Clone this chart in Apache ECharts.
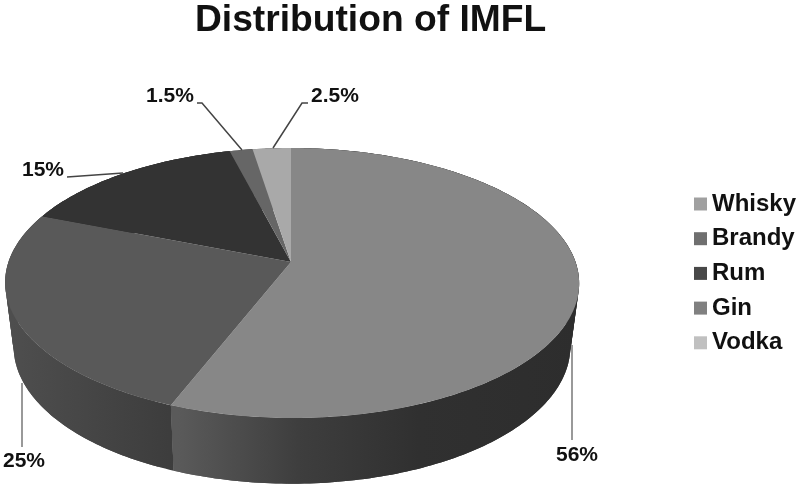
<!DOCTYPE html>
<html>
<head>
<meta charset="utf-8">
<style>html,body{margin:0;padding:0;background:#fff}#c{width:800px;height:489px}</style>
<script src="https://cdn.jsdelivr.net/npm/echarts@6/dist/echarts.min.js"></script>
</head>
<body>
<div id="c"></div>
<script>
const categories = ['Whisky', 'Brandy', 'Rum', 'Gin', 'Vodka'];
const values = [56, 25, 15, 1.5, 2.5];
const labelTexts = ['56%', '25%', '15%', '1.5%', '2.5%'];
const topColors = ['#878787', '#595959', '#333333', '#666666', '#a9a9a9'];
const legendColors = ['#a0a0a0', '#6f6f6f', '#484848', '#808080', '#c0c0c0'];

// Layout only: perspective of the disc and placing of the callouts
const CX = 291, CY = 262, RIM_CX = 292, R = 283.5, A = 131.7, K = 0.1556;
const DEPTH = 63, BOTTOM_SCALE = 0.97, BOTTOM_A = 134;
const calloutLayout = [
  { text: [577, 455], line: [[572, 345], [572, 440]], color: '#777777' },
  { text: [24, 461], line: [[22, 383], [22, 447]], color: '#777777' },
  { text: [43, 170], line: [[123, 173], [67, 177]], color: '#444444' },
  { text: [170, 96], line: [[242, 150], [202, 103], [197, 103]], color: '#444444' },
  { text: [335, 96], line: [[273, 148], [302, 103], [308, 103]], color: '#444444' }
];
const wallStops = [
  { x0: 178, x1: 579, stops: [[0, '#5a5a5a'], [0.3, '#3e3e3e'], [0.6, '#303030'], [1, '#2d2d2d']] },
  { x0: 12, x1: 178, stops: [[0, '#4e4e4e'], [1, '#3c3c3c']] },
  { x0: 0, x1: 300, stops: [[0, '#2a2a2a'], [1, '#2a2a2a']] },
  { x0: 0, x1: 300, stops: [[0, '#444444'], [1, '#444444']] },
  { x0: 0, x1: 300, stops: [[0, '#666666'], [1, '#666666']] }
];

const total = values.reduce((a, b) => a + b, 0);

function topPoint(a) {
  const u = Math.sin(a), v = Math.cos(a), s = 1 / (1 + K * v);
  return [RIM_CX + R * u * s - (RIM_CX - CX) * v, CY - A * v * s];
}
function bottomPoint(a) {
  const u = Math.sin(a), v = Math.cos(a), s = 1 / (1 + K * v);
  return [RIM_CX + BOTTOM_SCALE * R * u * s, CY + DEPTH - BOTTOM_A * v * s];
}
function arc(fn, a0, a1) {
  const n = Math.max(2, Math.ceil(Math.abs(a1 - a0) / (Math.PI / 180)));
  const pts = [];
  for (let i = 0; i <= n; i++) pts.push(fn(a0 + (a1 - a0) * i / n));
  return pts;
}

function makeRender(idx) {
  return function (params, api) {
    const before = values.slice(0, idx).reduce((a, b) => a + b, 0);
    const a0 = before / total * 2 * Math.PI;
    const a1 = (before + api.value(0)) / total * 2 * Math.PI;
    const g = wallStops[idx];
    const fill = {
      type: 'linear', global: true, x: g.x0, y: 0, x2: g.x1, y2: 0,
      colorStops: g.stops.map(s => ({ offset: s[0], color: s[1] }))
    };
    // The wall folds over at the silhouette, so it is drawn as short overlapping bands
    const bands = [];
    const steps = Math.max(2, Math.ceil((a1 - a0) / (3 * Math.PI / 180)));
    for (let i = 0; i < steps; i++) {
      const b0 = a0 + (a1 - a0) * i / steps;
      const b1 = a0 + (a1 - a0) * Math.min(steps, i + 2) / steps;
      bands.push({
        type: 'polygon', z2: 1,
        shape: { points: arc(topPoint, b0, b1).concat(arc(bottomPoint, b1, b0)) },
        style: { fill: fill }
      });
    }
    const face = [[CX, CY]].concat(arc(topPoint, a0, a1));
    const c = calloutLayout[idx];
    return {
      type: 'group',
      children: bands.concat([
        { type: 'polygon', z2: 2, shape: { points: face }, style: { fill: topColors[idx] } },
        {
          type: 'polyline', z2: 3, shape: { points: c.line },
          style: { fill: null, stroke: c.color, lineWidth: 1.5 }
        },
        {
          type: 'text', z2: 4, x: c.text[0], y: c.text[1],
          style: {
            text: labelTexts[idx], fill: '#111111', align: 'center', verticalAlign: 'middle',
            font: 'bold 21px "Liberation Sans", Arial, sans-serif'
          }
        }
      ])
    };
  };
}

const chart = echarts.init(document.getElementById('c'), null, { renderer: 'canvas' });
chart.setOption({
  animation: false,
  backgroundColor: '#ffffff',
  title: {
    text: 'Distribution of IMFL', left: 195, top: 2, padding: 0,
    textStyle: { fontFamily: '"Liberation Sans", Arial, sans-serif', fontWeight: 'bold', fontSize: 37.2, color: '#111111' }
  },
  legend: {
    orient: 'vertical', left: 694, top: 192, padding: 0,
    itemWidth: 13, itemHeight: 13, itemGap: 10.7, icon: 'rect',
    selectedMode: false,
    data: categories.map((n, i) => ({ name: n, itemStyle: { color: legendColors[i] } })),
    textStyle: { fontFamily: '"Liberation Sans", Arial, sans-serif', fontWeight: 'bold', fontSize: 24, lineHeight: 23, color: '#111111' }
  },
  series: categories.map((n, i) => ({
    type: 'custom', name: n, coordinateSystem: 'none', silent: true,
    itemStyle: { color: legendColors[i] },
    data: [[values[i]]],
    renderItem: makeRender(i)
  }))
});
</script>
</body>
</html>
